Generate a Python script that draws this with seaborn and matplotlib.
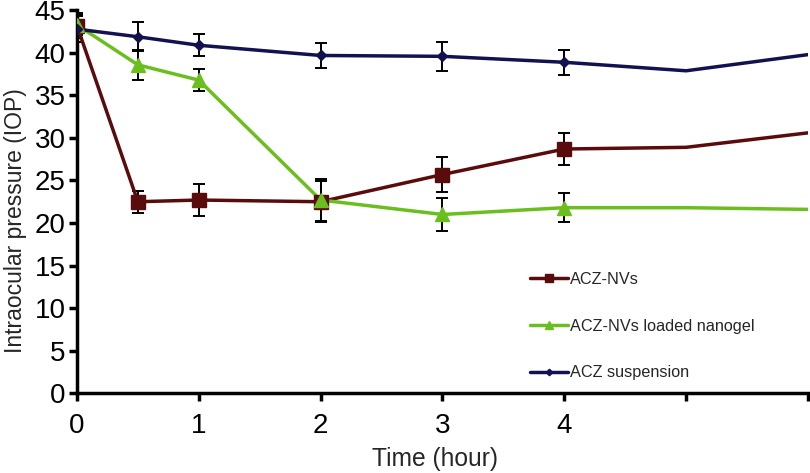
import matplotlib
matplotlib.use("Agg")
import matplotlib.pyplot as plt
from matplotlib.lines import Line2D
import seaborn as sns
import pandas as pd
import numpy as np

time = [0, 0.5, 1, 2, 3, 4, 5, 6]
nvs = [43.2, 22.5, 22.7, 22.5, 25.7, 28.7, 28.9, 30.6]
nvs_err = [1.5, 1.3, 1.9, 2.4, 2.1, 1.9]
gel = [43.3, 38.6, 36.8, 22.7, 21.0, 21.8, 21.8, 21.6]
gel_err = [1.2, 1.8, 1.3, 2.5, 1.9, 1.7]
susp = [42.8, 41.9, 40.9, 39.7, 39.6, 38.9, 37.9, 39.8]
susp_err = [1.5, 1.7, 1.3, 1.5, 1.7, 1.5]
labels = ["ACZ-NVs", "ACZ-NVs loaded nanogel", "ACZ suspension"]
xticks = [0, 1, 2, 3, 4, 5, 6]
xticklabels = ["0", "1", "2", "3", "4", "", ""]

colors = ["#5a0c0c", "#6abf1e", "#121250"]
markers = ["s", "^", "D"]
msizes = [10, 10, 5.5]

sns.set_style("white")
plt.rcParams["font.family"] = ["Liberation Sans", "DejaVu Sans"]

fig = plt.figure(figsize=(8.1, 4.73), dpi=100)
ax = fig.add_axes([0.095, 0.169, 0.9025, 0.809])

series = [nvs, gel, susp]
errs = [nvs_err, gel_err, susp_err]
n_err = len(nvs_err)
for vals, err, col, mk, ms, lab in zip(series, errs, colors, markers, msizes, labels):
    df = pd.DataFrame({"t": time, "v": vals})
    sns.lineplot(data=df, x="t", y="v", color=col, lw=2.5, ax=ax, zorder=3)
    ax.errorbar(time[:n_err], vals[:n_err], yerr=err, fmt="none", ecolor="black",
                elinewidth=1.4, capsize=4, capthick=1.4, zorder=2)
    ax.plot(time[:n_err], vals[:n_err], linestyle="none", marker=mk, markersize=ms,
            color=col, zorder=4)

ax.set_xlim(0, 6)
ax.set_ylim(0, 45)
ax.set_yticks(range(0, 46, 5))
ax.set_xticks(xticks)
ax.set_xticklabels(xticklabels)
ax.tick_params(axis="both", labelsize=20, width=2.5, length=6, direction="out",
               colors="black", bottom=True, left=True, pad=2)
ax.tick_params(axis="x", pad=8)
for s in ["top", "right"]:
    ax.spines[s].set_visible(False)
for s in ["left", "bottom"]:
    ax.spines[s].set_linewidth(2.5)
    ax.spines[s].set_color("black")
ax.set_xlabel("Time (hour)", fontsize=17.7)
ax.set_ylabel("Intraocular pressure (IOP)", fontsize=16.5)
ax.xaxis.set_label_coords(0.49, -0.141)
ax.yaxis.set_label_coords(-0.068, 0.45)

handles = [Line2D([0], [0], color=c, lw=2.5, marker=m, markersize=s * 0.6)
           for c, m, s in zip(colors, markers, msizes)]
ax.legend(handles, labels, loc="upper left", bbox_to_anchor=(0.6, 0.355),
          frameon=False, fontsize=11.7, handlelength=2.3, handletextpad=0.15,
          labelspacing=1.95)

fig.savefig("out.png", dpi=100)
